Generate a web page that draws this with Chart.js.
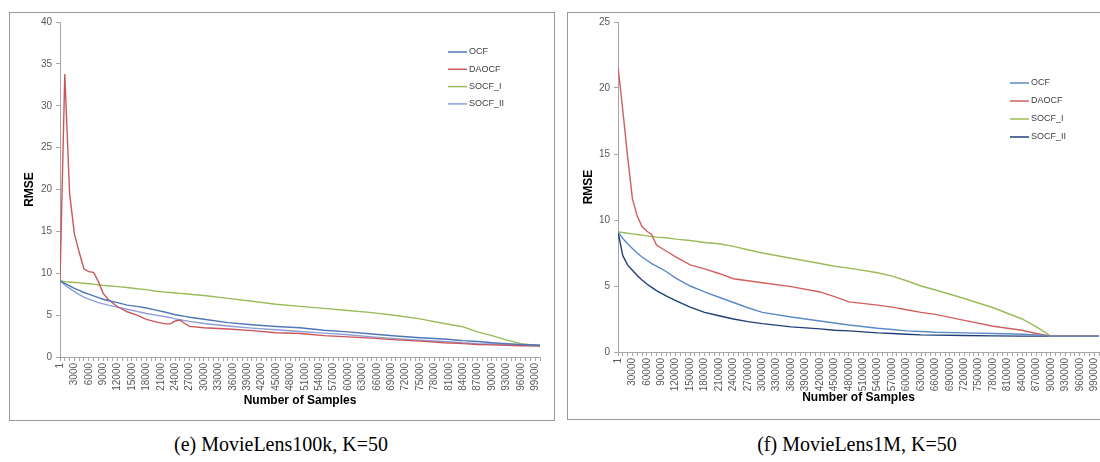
<!DOCTYPE html>
<html>
<head>
<meta charset="utf-8">
<script src="https://cdn.jsdelivr.net/npm/chart.js@4.4.0/dist/chart.umd.min.js"></script>
<style>
    body { margin: 0; background: #fff; width: 1100px; height: 462px; overflow: hidden; position: relative; }
    .frame { position: absolute; border: 1px solid #9a9a9a; box-sizing: border-box; }
    .plot { position: absolute; }
    .caption { position: absolute; width: 400px; text-align: center; font-family: "Liberation Serif", serif; font-size: 20px; color: #000; }
</style>
</head>
<body>
<div class="frame" style="left:9px; top:12px; width:546px; height:409px;"></div>
<div class="frame" style="left:567px; top:12px; width:560px; height:408px;"></div>
<div class="plot" style="left:12px; top:12px; width:542px; height:408px;"><canvas id="chart100k"></canvas></div>
<div class="plot" style="left:567px; top:12px; width:546px; height:408px;"><canvas id="chart1m"></canvas></div>
<div class="caption" style="left:81px; top:433px;">(e) MovieLens100k, K=50</div>
<div class="caption" style="left:657px; top:433px;">(f) MovieLens1M, K=50</div>
<script>
// MovieLens100k, K=50
let samples100k = [1, 1000, 2000, 3000, 4000, 5000, 6000, 7000, 8000, 9000,
    10000, 12000, 14000, 16000, 18000, 20000, 22000, 23000, 24000, 25000, 26000, 27000,
    30000, 35000, 40000, 45000, 50000, 55000, 60000, 65000, 70000, 75000, 80000,
    83000, 84000, 87000, 90000, 93000, 96000, 100000];
let ocf100k = [9.1, 8.8, 8.5, 8.2, 7.95, 7.7, 7.5, 7.3, 7.1, 6.9,
    6.75, 6.5, 6.2, 6.05, 5.85, 5.6, 5.35, 5.2, 5.05, 4.95, 4.85, 4.75,
    4.5, 4.1, 3.85, 3.65, 3.5, 3.2, 3.0, 2.75, 2.5, 2.3, 2.15,
    2.0, 1.95, 1.85, 1.7, 1.6, 1.5, 1.4];
let daocf100k = [9.1, 33.8, 19.5, 14.7, 12.5, 10.5, 10.2, 10.1, 9.0, 7.6,
    6.9, 6.0, 5.4, 5.0, 4.5, 4.2, 3.95, 3.95, 4.3, 4.4, 4.0, 3.65,
    3.5, 3.35, 3.15, 2.9, 2.8, 2.55, 2.4, 2.25, 2.05, 1.9, 1.7,
    1.65, 1.6, 1.5, 1.45, 1.4, 1.35, 1.3];
let socf1100k = [9.1, 9.0, 8.95, 8.9, 8.85, 8.8, 8.75, 8.7, 8.6, 8.55,
    8.5, 8.4, 8.3, 8.15, 8.05, 7.85, 7.75, 7.7, 7.65, 7.6, 7.55, 7.5,
    7.35, 7.0, 6.65, 6.3, 6.05, 5.8, 5.55, 5.3, 4.95, 4.55, 4.0,
    3.7, 3.6, 3.0, 2.55, 2.05, 1.6, 1.35];
let socf2100k = [9.1, 8.6, 8.2, 7.8, 7.45, 7.15, 6.9, 6.7, 6.5, 6.35,
    6.2, 5.95, 5.7, 5.45, 5.2, 5.0, 4.8, 4.7, 4.55, 4.45, 4.35, 4.25,
    4.0, 3.7, 3.45, 3.25, 3.05, 2.85, 2.65, 2.4, 2.2, 2.0, 1.85,
    1.75, 1.7, 1.6, 1.55, 1.5, 1.45, 1.4];

// MovieLens1M, K=50
let samples1m = [1, 10000, 20000, 30000, 40000, 50000, 60000, 70000, 80000,
    100000, 120000, 150000, 180000, 210000, 240000, 270000, 300000,
    360000, 420000, 450000, 480000, 540000, 570000, 600000, 630000, 660000,
    720000, 780000, 840000, 870000, 900000, 930000, 1000000];
let ocf1m = [9.1, 8.6, 8.2, 7.85, 7.5, 7.2, 6.95, 6.7, 6.5,
    6.1, 5.6, 5.0, 4.55, 4.15, 3.75, 3.35, 3.0,
    2.65, 2.35, 2.2, 2.05, 1.8, 1.7, 1.6, 1.55, 1.5,
    1.45, 1.4, 1.35, 1.3, 1.2, 1.2, 1.2];
let daocf1m = [21.6, 18.3, 14.8, 11.6, 10.3, 9.5, 9.15, 8.9, 8.1,
    7.65, 7.2, 6.6, 6.3, 5.95, 5.55, 5.4, 5.25,
    4.95, 4.55, 4.2, 3.8, 3.55, 3.4, 3.2, 3.0, 2.85,
    2.4, 1.95, 1.65, 1.4, 1.2, 1.2, 1.2];
let socf11m = [9.1, 9.05, 9.0, 8.95, 8.9, 8.85, 8.8, 8.75, 8.7,
    8.65, 8.55, 8.45, 8.3, 8.2, 8.0, 7.75, 7.5,
    7.1, 6.7, 6.5, 6.35, 6.0, 5.75, 5.4, 5.0, 4.7,
    4.05, 3.35, 2.5, 1.9, 1.2, 1.2, 1.2];
let socf21m = [9.1, 7.3, 6.6, 6.2, 5.8, 5.45, 5.15, 4.9, 4.65,
    4.25, 3.9, 3.4, 3.0, 2.75, 2.5, 2.3, 2.15,
    1.9, 1.75, 1.65, 1.6, 1.45, 1.4, 1.35, 1.3, 1.28,
    1.25, 1.22, 1.2, 1.2, 1.2, 1.2, 1.2];

let seriesNames = ['OCF', 'DAOCF', 'SOCF_I', 'SOCF_II'];

function points(xs, ys) {
    return xs.map((x, i) => ({ x: x, y: ys[i] }));
}

// legend drawn inside the plot, excel style
let innerLegend = {
    id: 'innerLegend',
    afterDraw: function (chart, args, opts) {
        let ctx = chart.ctx;
        ctx.save();
        ctx.font = '9px "Liberation Sans", sans-serif';
        ctx.textBaseline = 'middle';
        chart.data.datasets.forEach((ds, i) => {
            let y = opts.y + i * opts.step;
            ctx.strokeStyle = ds.borderColor;
            ctx.lineWidth = 1.5;
            ctx.beginPath();
            ctx.moveTo(opts.x, y);
            ctx.lineTo(opts.x + 19, y);
            ctx.stroke();
            ctx.fillStyle = '#404040';
            ctx.fillText(ds.label, opts.x + 21, y);
        });
        ctx.restore();
    }
};

function makeChart(id, cfg) {
    let datasets = cfg.series.map((ys, i) => ({
        label: seriesNames[i],
        data: points(cfg.xs, ys),
        borderColor: cfg.colors[i],
        borderWidth: 1.4,
        pointRadius: 0,
        tension: 0,
        fill: false
    }));
    return new Chart(document.getElementById(id), {
        type: 'line',
        data: { datasets: datasets },
        plugins: [innerLegend],
        options: {
            responsive: true,
            maintainAspectRatio: false,
            animation: false,
            layout: { padding: { top: cfg.top, right: cfg.right, left: 0, bottom: 0 } },
            plugins: {
                legend: { display: false },
                tooltip: { enabled: false },
                innerLegend: cfg.legend
            },
            scales: {
                x: {
                    type: 'linear',
                    min: 1,
                    max: cfg.xMax,
                    afterBuildTicks: function (scale) {
                        let t = [{ value: 1 }];
                        for (let v = cfg.xStep; v <= cfg.xMax; v += cfg.xStep) t.push({ value: v });
                        scale.ticks = t;
                    },
                    afterFit: function (scale) { scale.height = cfg.xHeight; },
                    ticks: {
                        autoSkip: false,
                        minRotation: 90,
                        maxRotation: 90,
                        padding: 2,
                        color: '#595959',
                        font: { family: '"Liberation Sans", sans-serif', size: 10 },
                        callback: function (v) {
                            return (v === 1 || v % cfg.labelStep === 0) ? String(v) : '';
                        }
                    },
                    grid: { drawOnChartArea: false, tickLength: 4, color: '#a6a6a6' },
                    border: { color: '#a6a6a6' },
                    title: {
                        display: true,
                        text: 'Number of Samples',
                        color: '#000',
                        font: { family: '"Liberation Sans", sans-serif', size: 12, weight: 'bold' },
                        padding: { top: 0, bottom: cfg.xTitlePad }
                    }
                },
                y: {
                    min: 0,
                    max: cfg.yMax,
                    afterFit: function (scale) { scale.width = cfg.yWidth; },
                    ticks: {
                        stepSize: 5,
                        padding: 4,
                        color: '#595959',
                        font: { family: '"Liberation Sans", sans-serif', size: 10 }
                    },
                    grid: { drawOnChartArea: false, tickLength: 4, color: '#a6a6a6' },
                    border: { color: '#a6a6a6' },
                    title: {
                        display: true,
                        text: 'RMSE',
                        color: '#000',
                        font: { family: '"Liberation Sans", sans-serif', size: 12, weight: 'bold' },
                        padding: { top: cfg.yTitlePad, bottom: 0 }
                    }
                }
            }
        }
    });
}

makeChart('chart100k', {
    xs: samples100k,
    series: [ocf100k, daocf100k, socf1100k, socf2100k],
    colors: ['#4f77b5', '#c8575a', '#9bbb59', '#8c9ed8'],
    xMax: 100000, xStep: 1000, labelStep: 3000, yMax: 40,
    top: 10, right: 11, xHeight: 63, yWidth: 48, xTitlePad: 12, yTitlePad: 10,
    legend: { x: 436, y: 40, step: 17.3 }
});

makeChart('chart1m', {
    xs: samples1m,
    series: [ocf1m, daocf1m, socf11m, socf21m],
    colors: ['#5b8ac6', '#d0605e', '#9bbb59', '#203f7a'],
    xMax: 1000000, xStep: 10000, labelStep: 30000, yMax: 25,
    top: 10, right: 0, xHeight: 68, yWidth: 51, xTitlePad: 15, yTitlePad: 14,
    legend: { x: 443, y: 71, step: 18 }
});
</script>
</body>
</html>
